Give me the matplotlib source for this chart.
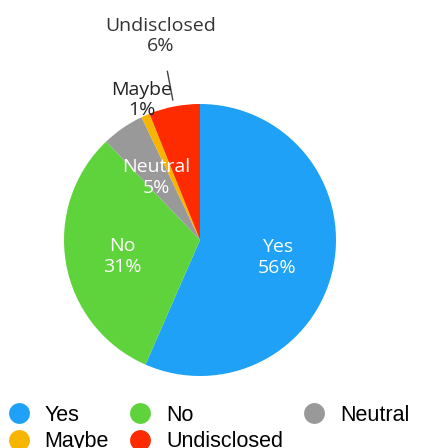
import matplotlib.pyplot as plt
from matplotlib.lines import Line2D

labels = ["Yes", "No", "Neutral", "Maybe", "Undisclosed"]
values = [56, 31, 5, 1, 6]
colors = ["#1ea1f7", "#5fd33b", "#999999", "#f7b500", "#ff2b00"]

fig = plt.figure(figsize=(4.21, 4.48), dpi=100)
# pie centre about (200, 240) px, radius about 136 px
ax = fig.add_axes([64 / 421, 72 / 448, 272 / 421, 272 / 448])
ax.pie(values, colors=colors, startangle=90, counterclock=False,
       wedgeprops=dict(linewidth=0))
ax.set_xlim(-1, 1)
ax.set_ylim(-1, 1)
ax.set_aspect("equal")
ax.axis("off")

fnt = "Open Sans"
lab = dict(ha="center", va="center", fontsize=14, family=fnt, linespacing=1.2)
ax.text(0.57, -0.13, "Yes\n56%", color="white", **lab)
ax.text(-0.57, -0.12, "No\n31%", color="white", **lab)
ax.text(-0.32, 0.46, "Neutral\n5%", color="white", **lab)
ax.text(-0.43, 1.03, "Maybe\n1%", color="#222222", clip_on=False, **lab)
ax.text(-0.29, 1.5, "Undisclosed\n6%", color="#333333", clip_on=False, **lab)
ax.plot([-0.24, -0.2], [1.24, 1.03], color="#444444", lw=1, clip_on=False)

handles = [Line2D([], [], marker="o", ls="", markersize=15, color=c,
                  markeredgewidth=0) for c in colors]
order = [0, 3, 1, 4, 2]
fig.legend([handles[i] for i in order], [labels[i] for i in order],
           ncol=3, loc="upper left", bbox_to_anchor=(8 / 421, 1 - 405 / 448),
           frameon=False, borderpad=0, borderaxespad=0,
           prop=dict(family="Liberation Sans", size=15.5),
           handlelength=1.0, handletextpad=0.7, columnspacing=0.95,
           labelspacing=0.25)

fig.savefig("out.png", dpi=100)
